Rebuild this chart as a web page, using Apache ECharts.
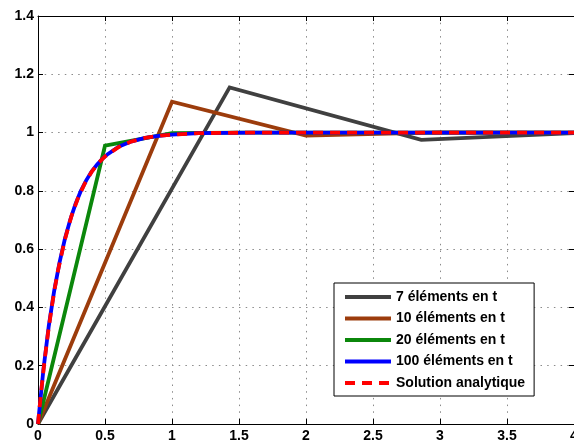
<!DOCTYPE html>
<html>
<head>
<meta charset="utf-8">
<script src="https://cdn.jsdelivr.net/npm/echarts@6/dist/echarts.min.js"></script>
<style>html,body{margin:0;padding:0;background:#fff}#c{width:574px;height:443px}</style>
</head>
<body>
<div id="c"></div>
<script>
const seriesNames = ['7 éléments en t', '10 éléments en t', '20 éléments en t', '100 éléments en t', 'Solution analytique'];
const xTicks = [0, 0.5, 1, 1.5, 2, 2.5, 3, 3.5, 4];
const yTicks = [0, 0.2, 0.4, 0.6, 0.8, 1, 1.2, 1.4];

const s7 = [[0, 0], [1.43, 1.155], [2.86, 0.975], [4, 0.998]];
const s10 = [[0, 0], [1, 1.106], [2, 0.99], [3, 1.001], [4, 1.0]];
const s20 = [[0, 0], [0.5, 0.955], [1, 0.998], [1.5, 1.0], [2, 1.0], [2.5, 1.0], [3, 1.0], [3.5, 1.0], [4, 1.0]];
const s100 = [[0, 0], [0.04, 0.185], [0.08, 0.335], [0.12, 0.455], [0.16, 0.553], [0.2, 0.634],
  [0.24, 0.7], [0.28, 0.755], [0.32, 0.8], [0.36, 0.836], [0.4, 0.866], [0.44, 0.89], [0.48, 0.91],
  [0.52, 0.926], [0.6, 0.951], [0.7, 0.97], [0.8, 0.982], [0.9, 0.989], [1, 0.993], [1.2, 0.998],
  [1.4, 0.999], [1.6, 1.0], [2, 1.0], [3, 1.0], [4, 1.0]];
const sAna = [[0, 0], [0.025, 0.118], [0.05, 0.221], [0.075, 0.313], [0.1, 0.394], [0.125, 0.465],
  [0.15, 0.528], [0.2, 0.632], [0.25, 0.714], [0.3, 0.777], [0.35, 0.826], [0.4, 0.865], [0.45, 0.895],
  [0.5, 0.918], [0.6, 0.95], [0.7, 0.97], [0.8, 0.982], [0.9, 0.989], [1, 0.993], [1.2, 0.998],
  [1.4, 0.999], [1.6, 1.0], [2, 1.0], [3, 1.0], [4, 1.0]];

const colors = ['#404040', '#9c3c0c', '#0b870b', '#0000ff', '#ff0000'];
const font = "'Liberation Sans', Arial, sans-serif";
const chart = echarts.init(document.getElementById('c'), null, {renderer: 'canvas'});

const gridStyle = {show: true, lineStyle: {color: '#8a8a8a', width: 1, type: [1.5, 5.2]}};
const baseX = {
  type: 'value', min: 0, max: 4, interval: 0.5,
  axisLine: {show: true, onZero: false, lineStyle: {color: '#000', width: 1}},
  axisTick: {show: true, inside: true, length: 5, lineStyle: {color: '#000'}},
};
const baseY = {
  type: 'value', min: 0, max: 1.4, interval: 0.2,
  axisLine: {show: true, onZero: false, lineStyle: {color: '#000', width: 1}},
  axisTick: {show: true, inside: true, length: 5, lineStyle: {color: '#000'}},
};
const data = [s7, s10, s20, s100, sAna];
chart.setOption({
  animation: false,
  grid: {left: 38, top: 16, width: 536, height: 408, containLabel: false, outerBoundsMode: 'none'},
  xAxis: [
    Object.assign({}, baseX, {position: 'bottom',
      axisLabel: {color: '#000', fontWeight: 'bold', fontSize: 14, fontFamily: font, margin: 5,
        formatter: v => String(v)},
      splitLine: gridStyle}),
    Object.assign({}, baseX, {position: 'top', axisLabel: {show: false}, splitLine: {show: false}})
  ],
  yAxis: [
    Object.assign({}, baseY, {position: 'left',
      axisLabel: {color: '#000', fontWeight: 'bold', fontSize: 14, fontFamily: font, margin: 4,
        formatter: v => String(+(+v).toFixed(1))},
      splitLine: gridStyle}),
    Object.assign({}, baseY, {position: 'right', axisLabel: {show: false}, splitLine: {show: false}})
  ],
  legend: {
    show: true,
    orient: 'vertical', left: 334, top: 283,
    padding: [7, 9, 6, 9],
    backgroundColor: '#fff', borderColor: '#000', borderWidth: 1,
    itemWidth: 46, itemHeight: 14, itemGap: 7.5,
    itemStyle: {opacity: 0},
    lineStyle: {opacity: 1, width: 4},
    textStyle: {color: '#000', fontWeight: 'bold', fontSize: 14, fontFamily: font},
    data: seriesNames
  },
  series: data.map((d, i) => ({
    name: seriesNames[i], type: 'line', data: d, showSymbol: false, symbol: 'none',
    lineStyle: {color: colors[i], width: 3.8, type: i === 4 ? [10, 7] : 'solid', cap: 'butt', join: 'miter'},
    itemStyle: {color: colors[i]},
    z: 2 + i
  }))
});
</script>
</body>
</html>
